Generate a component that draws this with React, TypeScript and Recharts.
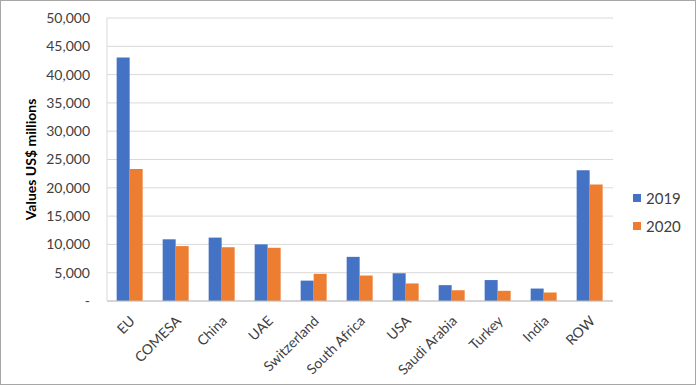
import React from 'react';
import { Bar, BarChart, CartesianGrid, XAxis, YAxis } from 'recharts';

const countries = ['EU', 'COMESA', 'China', 'UAE', 'Switzerland', 'South Africa', 'USA', 'Saudi Arabia', 'Turkey', 'India', 'ROW'];
const values2019 = [43000, 10900, 11200, 10000, 3600, 7800, 4900, 2800, 3700, 2200, 23100];
const values2020 = [23300, 9700, 9500, 9400, 4800, 4500, 3100, 1900, 1800, 1500, 20600];
const yTicks = [0, 5000, 10000, 15000, 20000, 25000, 30000, 35000, 40000, 45000, 50000];

const data = countries.map((name, i) => ({ name, y2019: values2019[i], y2020: values2020[i] }));

const FONT = 'Lato, "Open Sans", sans-serif';
const TEXT = '#404040';

const formatTick = (v: number) => (v === 0 ? '-' : v.toLocaleString('en-US'));

const XTick = ({ x, y, payload }: any) => (
  <text
    x={x + 2}
    y={y + 9}
    textAnchor="end"
    fontSize={14}
    fontFamily={FONT}
    fill={TEXT}
    transform={`rotate(-45, ${x + 2}, ${y + 9})`}
    dominantBaseline="central"
  >
    {payload.value}
  </text>
);

export default function App() {
  return (
    <div
      style={{
        position: 'fixed',
        top: 0,
        left: 0,
        width: 694,
        height: 383,
        border: '1px solid #a6a6a6',
        background: '#fff',
        fontFamily: FONT,
      }}
    >
      <BarChart
        width={694}
        height={383}
        data={data}
        margin={{ top: 17, right: 82, left: 0, bottom: 0 }}
        barCategoryGap="21%"
        barGap={0}
      >
        <CartesianGrid vertical={false} stroke="#d9d9d9" />
        <XAxis
          dataKey="name"
          interval={0}
          height={83}
          tick={<XTick />}
          tickLine={false}
          axisLine={{ stroke: '#bfbfbf' }}
        />
        <YAxis
          width={106}
          domain={[0, 50000]}
          ticks={yTicks}
          tickFormatter={formatTick}
          tick={{ fill: TEXT, fontSize: 14, fontFamily: FONT, dx: -9 }}
          tickLine={false}
          axisLine={{ stroke: '#d9d9d9' }}
          label={{
            value: 'Values US$ millions',
            angle: -90,
            position: 'insideLeft',
            offset: 30,
            style: { textAnchor: 'middle', fontWeight: 700, fontSize: 14, fill: '#000', fontFamily: FONT },
          }}
        />
        <Bar dataKey="y2019" fill="#4472C4" isAnimationActive={false} />
        <Bar dataKey="y2020" fill="#ED7D31" isAnimationActive={false} />
      </BarChart>
      <div style={{ position: 'absolute', left: 632, top: 183, fontSize: 15, color: TEXT, lineHeight: '28px' }}>
        <div style={{ display: 'flex', alignItems: 'center' }}>
          <span style={{ width: 8, height: 8, background: '#4472C4', marginRight: 5, display: 'inline-block' }} />
          2019
        </div>
        <div style={{ display: 'flex', alignItems: 'center' }}>
          <span style={{ width: 8, height: 8, background: '#ED7D31', marginRight: 5, display: 'inline-block' }} />
          2020
        </div>
      </div>
    </div>
  );
}
